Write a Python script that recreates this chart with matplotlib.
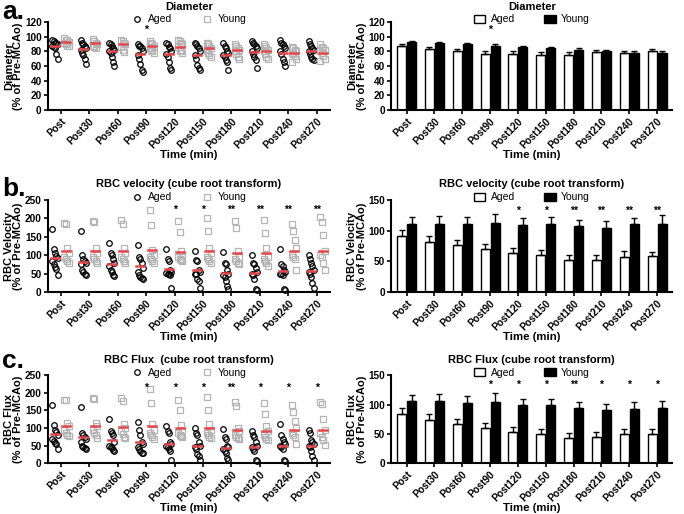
import numpy as np
import matplotlib
matplotlib.use('Agg')
import matplotlib.pyplot as plt
from matplotlib.lines import Line2D
from matplotlib.patches import Patch

plt.rcParams['font.family'] = 'Liberation Sans'
plt.rcParams['font.weight'] = 'bold'

times = ['Post', 'Post30', 'Post60', 'Post90', 'Post120',
         'Post150', 'Post180', 'Post210', 'Post240', 'Post270']

# ---- Diameter ----
diam_aged_pts = [
    [96, 94, 92, 91, 90, 88, 86, 84, 77, 70],
    [95, 92, 90, 88, 85, 82, 78, 75, 70, 63],
    [92, 90, 88, 85, 82, 80, 78, 72, 66, 60],
    [90, 88, 87, 85, 80, 75, 70, 63, 55, 52],
    [92, 90, 86, 84, 80, 76, 72, 65, 58, 55],
    [92, 90, 88, 85, 80, 75, 70, 62, 58, 54],
    [92, 88, 84, 80, 78, 75, 72, 68, 65, 55],
    [94, 92, 90, 88, 85, 80, 76, 72, 68, 58],
    [95, 92, 90, 88, 85, 80, 76, 70, 65, 60],
    [94, 90, 88, 85, 82, 80, 76, 72, 70, 68],
]
diam_young_pts = [
    [98, 96, 95, 93, 92, 90, 88, 87],
    [97, 94, 92, 90, 88, 86, 85],
    [96, 94, 92, 90, 86, 82, 79],
    [94, 92, 90, 88, 85, 82, 80, 78],
    [95, 94, 92, 90, 86, 82, 80, 78],
    [92, 90, 88, 85, 82, 78, 75, 73],
    [90, 88, 85, 82, 80, 76, 72, 70],
    [90, 88, 85, 82, 80, 76, 72, 70],
    [86, 84, 82, 80, 78, 76, 74, 70, 66],
    [90, 86, 84, 82, 80, 78, 74, 70, 67],
]
diam_aged_mean = [87, 83, 80, 76, 77, 75, 75, 79, 78, 80]
diam_young_mean = [93, 92, 90, 88, 86, 84, 82, 80, 78, 78]
diam_aged_sem = [2.5, 3, 3, 4, 3.5, 4, 3.5, 3, 3, 3]
diam_young_sem = [1, 1, 1.5, 1.5, 1.5, 2, 2, 2, 2, 2.5]
diam_stars = ['', '', '', '*', '', '', '', '', '', '']

# ---- RBC velocity ----
vel_aged_pts = [
    [170, 118, 105, 98, 92, 85, 75, 68, 62, 45],
    [165, 100, 90, 85, 80, 75, 60, 55, 50, 45],
    [132, 105, 100, 90, 80, 70, 60, 55, 45, 42],
    [128, 95, 90, 80, 65, 55, 45, 40, 38, 35],
    [118, 90, 85, 60, 55, 52, 50, 48, 45, 10],
    [112, 88, 85, 60, 55, 50, 48, 35, 30, 10],
    [108, 78, 75, 60, 50, 45, 40, 30, 15, 8],
    [100, 80, 75, 65, 55, 50, 45, 35, 8, 5],
    [118, 75, 70, 60, 55, 50, 48, 45, 8, 5],
    [100, 90, 80, 70, 60, 55, 50, 40, 25, 12],
]
vel_young_pts = [
    [188, 185, 120, 105, 95, 90, 85, 80],
    [192, 190, 120, 105, 95, 90, 85, 80],
    [195, 185, 120, 105, 95, 90, 85, 78],
    [222, 182, 115, 100, 95, 90, 85, 80],
    [192, 162, 110, 100, 95, 90, 88, 85],
    [200, 165, 120, 105, 95, 90, 85, 78],
    [192, 175, 110, 95, 90, 85, 80, 75],
    [195, 160, 120, 95, 90, 85, 80, 70],
    [185, 165, 140, 120, 100, 95, 90, 60],
    [203, 190, 155, 110, 100, 95, 80, 60],
]
vel_aged_mean = [91, 82, 76, 70, 63, 60, 52, 52, 57, 58]
vel_young_mean = [110, 111, 110, 113, 109, 110, 107, 105, 110, 111]
vel_aged_sem = [10, 10, 9, 8, 8, 8, 8, 9, 9, 7]
vel_young_sem = [12, 13, 12, 14, 11, 12, 11, 11, 11, 15]
vel_stars = ['', '', '', '', '*', '*', '**', '**', '**', '**']

# ---- RBC flux ----
flux_aged_pts = [
    [165, 108, 95, 88, 80, 70, 62, 58, 55, 40],
    [160, 85, 80, 75, 70, 60, 50, 45, 42, 40],
    [125, 90, 85, 80, 60, 50, 45, 42, 38, 35],
    [118, 95, 80, 60, 55, 45, 40, 35, 30, 28],
    [105, 90, 85, 60, 55, 50, 45, 40, 35, 8],
    [100, 85, 80, 60, 50, 45, 40, 25, 20, 8],
    [98, 75, 70, 50, 45, 40, 35, 30, 15, 8],
    [90, 80, 75, 60, 50, 45, 40, 35, 10, 5],
    [110, 80, 70, 60, 55, 50, 45, 40, 10, 5],
    [95, 85, 65, 60, 55, 50, 45, 35, 20, 10],
]
flux_young_pts = [
    [180, 180, 115, 105, 95, 85, 80, 78],
    [185, 182, 115, 105, 95, 85, 80, 72],
    [185, 178, 112, 100, 90, 82, 75, 72],
    [212, 172, 110, 95, 85, 80, 75, 70],
    [180, 150, 108, 95, 85, 80, 78, 75],
    [188, 152, 112, 95, 85, 80, 75, 72],
    [175, 162, 100, 90, 80, 75, 72, 70],
    [170, 140, 105, 90, 80, 75, 70, 65],
    [165, 145, 120, 100, 85, 80, 75, 55],
    [175, 168, 125, 95, 85, 75, 65, 52],
]
flux_aged_mean = [84, 73, 67, 60, 53, 50, 43, 45, 49, 50]
flux_young_mean = [106, 106, 103, 105, 99, 99, 94, 90, 93, 94]
flux_aged_sem = [10, 10, 8, 8, 8, 8, 8, 8, 9, 8]
flux_young_sem = [11, 12, 12, 14, 11, 11, 11, 11, 11, 12]
flux_stars = ['', '', '', '*', '*', '*', '**', '*', '*', '*']

RED = '#e8474a'
GRAY = '#b4b4b4'

fig = plt.figure(figsize=(6.84, 5.14), dpi=100)

rows = [
    dict(title_l='Diameter', title_r='Diameter', ylabel='Diameter\n(% of Pre-MCAo)',
         aged=diam_aged_pts, young=diam_young_pts, am=diam_aged_mean, ym=diam_young_mean,
         ase=diam_aged_sem, yse=diam_young_sem, stars=diam_stars,
         ylim_l=120, yt_l=np.arange(0, 121, 20), ylim_r=120, yt_r=np.arange(0, 121, 20),
         star_l=109, star_r=109, bottom=0.786, height=0.171, label='a.', label_y=0.964),
    dict(title_l='RBC velocity (cube root transform)', title_r='RBC velocity (cube root transform)',
         ylabel='RBC Velocity\n(% of Pre-MCAo)',
         aged=vel_aged_pts, young=vel_young_pts, am=vel_aged_mean, ym=vel_young_mean,
         ase=vel_aged_sem, yse=vel_young_sem, stars=vel_stars,
         ylim_l=250, yt_l=np.arange(0, 251, 50), ylim_r=150, yt_r=np.arange(0, 151, 50),
         star_l=222, star_r=133, bottom=0.432, height=0.179, label='b.', label_y=0.618),
    dict(title_l='RBC Flux  (cube root transform)', title_r='RBC Flux (cube root transform)',
         ylabel='RBC Flux\n(% of Pre-MCAo)',
         aged=flux_aged_pts, young=flux_young_pts, am=flux_aged_mean, ym=flux_young_mean,
         ase=flux_aged_sem, yse=flux_young_sem, stars=flux_stars,
         ylim_l=250, yt_l=np.arange(0, 251, 50), ylim_r=150, yt_r=np.arange(0, 151, 50),
         star_l=215, star_r=133, bottom=0.099, height=0.171, label='c.', label_y=0.285),
]

x = np.arange(len(times))


def style_axes(ax, ylim, yticks, ylabel):
    for s in ['top', 'right']:
        ax.spines[s].set_visible(False)
    for s in ['left', 'bottom']:
        ax.spines[s].set_linewidth(1.5)
    ax.set_ylim(0, ylim)
    ax.set_yticks(yticks)
    ax.set_xticks(x)
    ax.set_xticklabels(times, rotation=45, ha='right', rotation_mode='anchor',
                       fontsize=6.5, fontweight='bold')
    ax.tick_params(axis='both', width=1.2, length=3, labelsize=7.2, pad=1.5)
    ax.set_ylabel(ylabel, fontsize=8, fontweight='bold', labelpad=1, linespacing=0.95)
    ax.set_xlabel('Time (min)', fontsize=8.2, fontweight='bold', labelpad=-0.5)


for r in rows:
    # scatter panel
    ax = fig.add_axes([0.070, r['bottom'], 0.412, r['height']])
    for i in range(len(times)):
        pa = np.array(r['aged'][i], dtype=float)
        py = np.array(r['young'][i], dtype=float)
        ja = (np.arange(len(pa)) % 5 - 2) * 0.045
        jy = (np.arange(len(py)) % 4 - 1.5) * 0.05
        ax.plot(x[i] - 0.2 + ja, pa, 'o', mfc='none', mec='black', ms=4, mew=0.9, clip_on=False)
        ax.plot(x[i] + 0.2 + jy, py, 's', mfc='none', mec=GRAY, ms=4, mew=0.9, clip_on=False)
        ax.plot([x[i] - 0.34, x[i] - 0.06], [r['am'][i]] * 2, color=RED, lw=1.8)
        ax.plot([x[i] + 0.06, x[i] + 0.34], [r['ym'][i]] * 2, color=RED, lw=1.8)
        if r['stars'][i]:
            ax.text(x[i], r['star_l'], r['stars'][i], ha='center', va='center', fontsize=7.5)
    ax.set_xlim(-0.45, 9.45)
    style_axes(ax, r['ylim_l'], r['yt_l'], r['ylabel'])
    ax.set_title(r['title_l'], fontsize=8, fontweight='bold', pad=9)
    h = [Line2D([], [], marker='o', ls='none', mfc='none', mec='black', ms=4, mew=0.9),
         Line2D([], [], marker='s', ls='none', mfc='none', mec=GRAY, ms=4, mew=0.9)]
    leg = ax.legend(h, ['Aged', 'Young'], loc='center', bbox_to_anchor=(0.5, 1.03), ncol=2,
                    frameon=False, fontsize=7.5, columnspacing=2.8, handletextpad=0.4,
                    handlelength=1.2, borderpad=0, borderaxespad=0)
    for t in leg.get_texts():
        t.set_fontweight('normal')
    fig.text(0.003, r['label_y'], r['label'], fontsize=19, fontweight='bold', va='baseline')

    # bar panel
    ax = fig.add_axes([0.572, r['bottom'], 0.411, r['height']])
    w = 0.32
    ax.bar(x - 0.18, r['am'], w, color='white', edgecolor='black', lw=1)
    ax.bar(x + 0.18, r['ym'], w, color='black', edgecolor='black', lw=1)
    ax.errorbar(x - 0.18, r['am'], yerr=[np.zeros(len(x)), r['ase']], fmt='none',
                ecolor='black', elinewidth=1, capsize=2.5, capthick=1)
    ax.errorbar(x + 0.18, r['ym'], yerr=[np.zeros(len(x)), r['yse']], fmt='none',
                ecolor='black', elinewidth=1, capsize=2.5, capthick=1)
    for i in range(len(times)):
        if r['stars'][i]:
            ax.text(x[i], r['star_r'], r['stars'][i], ha='center', va='center', fontsize=7.5)
    ax.set_xlim(-0.55, 9.55)
    style_axes(ax, r['ylim_r'], r['yt_r'], r['ylabel'])
    ax.set_title(r['title_r'], fontsize=8, fontweight='bold', pad=9)
    h = [Patch(facecolor='white', edgecolor='black', lw=1),
         Patch(facecolor='black', edgecolor='black', lw=1)]
    leg = ax.legend(h, ['Aged', 'Young'], loc='center', bbox_to_anchor=(0.5, 1.03), ncol=2,
                    frameon=False, fontsize=7.5, columnspacing=2.8, handletextpad=0.5,
                    handlelength=1.1, handleheight=0.8, borderpad=0, borderaxespad=0)
    for t in leg.get_texts():
        t.set_fontweight('normal')

fig.savefig('out.png', dpi=100)
